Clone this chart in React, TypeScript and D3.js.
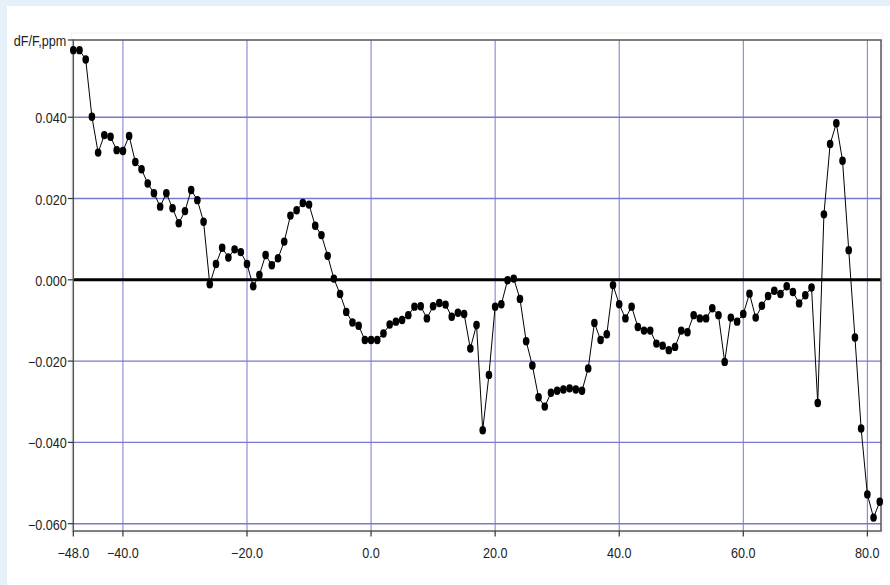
import React from "react";
import * as d3 from "d3";

// Temperature, °C
const temps = [
  -48, -47, -46, -45, -44, -43, -42, -41, -40, -39, -38, -37, -36, -35, -34, -33, -32, -31, -30, -29,
  -28, -27, -26, -25, -24, -23, -22, -21, -20, -19, -18, -17, -16, -15, -14, -13, -12, -11, -10, -9,
  -8, -7, -6, -5, -4, -3, -2, -1, 0, 1, 2, 3, 4, 5, 6, 7, 8, 9, 10, 11,
  12, 13, 14, 15, 16, 17, 18, 19, 20, 21, 22, 23, 24, 25, 26, 27, 28, 29, 30, 31,
  32, 33, 34, 35, 36, 37, 38, 39, 40, 41, 42, 43, 44, 45, 46, 47, 48, 49, 50, 51,
  52, 53, 54, 55, 56, 57, 58, 59, 60, 61, 62, 63, 64, 65, 66, 67, 68, 69, 70, 71,
  72, 73, 74, 75, 76, 77, 78, 79, 80, 81, 82,
];

// Relative frequency deviation dF/F, ppm
const dfValues = [
  0.0565, 0.0565, 0.0542, 0.0401, 0.0313, 0.0356, 0.0352, 0.0319, 0.0317, 0.0354,
  0.029, 0.0272, 0.0237, 0.0213, 0.018, 0.0213, 0.0176, 0.0139, 0.0169, 0.0221,
  0.0196, 0.0143, -0.0011, 0.0039, 0.0079, 0.0055, 0.0075, 0.0068, 0.0039, -0.0016,
  0.0012, 0.0061, 0.0036, 0.0053, 0.0094, 0.0158, 0.0171, 0.0189, 0.0185, 0.0133,
  0.011, 0.0059, 0.0003, -0.0035, -0.0079, -0.0105, -0.0113, -0.0148, -0.0148, -0.0148,
  -0.0132, -0.011, -0.0103, -0.0099, -0.0087, -0.0066, -0.0065, -0.0095, -0.0065, -0.0057,
  -0.0061, -0.0091, -0.0081, -0.0084, -0.0169, -0.0111, -0.037, -0.0234, -0.0066, -0.006,
  -0.0001, 0.0003, -0.0047, -0.0151, -0.0211, -0.0289, -0.0312, -0.0278, -0.0273, -0.027,
  -0.0267, -0.027, -0.0273, -0.0218, -0.0106, -0.0148, -0.0134, -0.0013, -0.006, -0.0095,
  -0.0066, -0.0116, -0.0125, -0.0125, -0.0157, -0.0162, -0.0173, -0.0165, -0.0125, -0.0129,
  -0.0087, -0.0095, -0.0095, -0.007, -0.0087, -0.0202, -0.0093, -0.0103, -0.0084, -0.0034,
  -0.0093, -0.0064, -0.004, -0.0027, -0.0035, -0.0016, -0.003, -0.0058, -0.0038, -0.0019,
  -0.0303, 0.0161, 0.0334, 0.0385, 0.0293, 0.0073, -0.0142, -0.0366, -0.0528, -0.0585,
  -0.0546,
];

const xTicks = [-48, -40, -20, 0, 20, 40, 60, 80];
const xGrid = [-40, -20, 0, 20, 40, 60, 80];
const yTicks = [0.04, 0.02, 0.0, -0.02, -0.04, -0.06];
const yAxisTitle = "dF/F,ppm";

const W = 890;
const H = 585;
const plot = { left: 73.3, right: 881, top: 40, bottom: 531 };

const FONT = "'Liberation Sans', Arial, sans-serif";
const GRID = "#7878d2";

export default function App() {
  const x = d3.scaleLinear().domain([-48, 82.2]).range([plot.left, plot.right]);
  const y = d3.scaleLinear().domain([-0.0618, 0.059]).range([plot.bottom, plot.top]);

  const points = temps.map((t, i) => ({ t, v: dfValues[i] }));
  const line = d3
    .line<{ t: number; v: number }>()
    .x((d) => x(d.t))
    .y((d) => y(d.v));

  const label = (
    key: string,
    tx: number,
    ty: number,
    text: string,
    anchor: "start" | "middle" | "end"
  ) => (
    <g key={key} transform={`translate(${tx},${ty}) scale(0.9,1)`}>
      <text x={0} y={0} textAnchor={anchor} fontFamily={FONT} fontSize={14} fill="#222">
        {text}
      </text>
    </g>
  );

  return (
    <svg
      width={W}
      height={H}
      style={{ position: "absolute", left: 0, top: 0, display: "block" }}
    >
      <rect x={0} y={0} width={W} height={H} fill="#e6f0f9" />
      <rect x={7} y={6} width={W - 7} height={H - 6} fill="#ffffff" />
      <rect
        x={plot.left - 2}
        y={plot.top - 7}
        width={plot.right - plot.left + 4}
        height={plot.bottom - plot.top + 9}
        fill="none"
        stroke="#f1f1f1"
      />

      {/* grid */}
      {xGrid.map((t) => (
        <line
          key={`gx${t}`}
          x1={x(t)}
          x2={x(t)}
          y1={plot.top}
          y2={plot.bottom}
          stroke={GRID}
          strokeWidth={1}
        />
      ))}
      {yTicks
        .filter((v) => v !== 0)
        .map((v) => (
          <line
            key={`gy${v}`}
            x1={plot.left}
            x2={plot.right}
            y1={y(v)}
            y2={y(v)}
            stroke={GRID}
            strokeWidth={1.4}
          />
        ))}
      <line x1={plot.left} x2={plot.right} y1={y(0)} y2={y(0)} stroke="#000" strokeWidth={3} />

      {/* frame */}
      <rect
        x={plot.left}
        y={plot.top}
        width={plot.right - plot.left}
        height={plot.bottom - plot.top}
        fill="none"
        stroke="#555"
        strokeWidth={1.5}
      />

      {/* y axis ticks and labels */}
      {yTicks.map((v) => (
        <g key={`ty${v}`}>
          <line x1={plot.left - 5.5} x2={plot.left} y1={y(v)} y2={y(v)} stroke="#333" strokeWidth={1.2} />
          {label(`ly${v}`, plot.left - 6.5, y(v) + 6, d3.format(".3f")(v), "end")}
        </g>
      ))}
      <line x1={plot.left - 5.5} x2={plot.left} y1={plot.top} y2={plot.top} stroke="#333" strokeWidth={1.2} />
      {label("title", plot.left - 7, plot.top + 6, yAxisTitle, "end")}

      {/* x axis ticks and labels */}
      {xTicks.map((t) => (
        <g key={`tx${t}`}>
          <line x1={x(t)} x2={x(t)} y1={plot.bottom} y2={plot.bottom + 5.5} stroke="#333" strokeWidth={1.2} />
          {label(`lx${t}`, x(t), 558, d3.format(".1f")(t), "middle")}
        </g>
      ))}

      {/* series */}
      <path d={line(points) ?? ""} fill="none" stroke="#000" strokeWidth={1} />
      {points.map((p) => (
        <ellipse key={`p${p.t}`} cx={x(p.t)} cy={y(p.v)} rx={3.3} ry={4.2} fill="#000" />
      ))}
    </svg>
  );
}
